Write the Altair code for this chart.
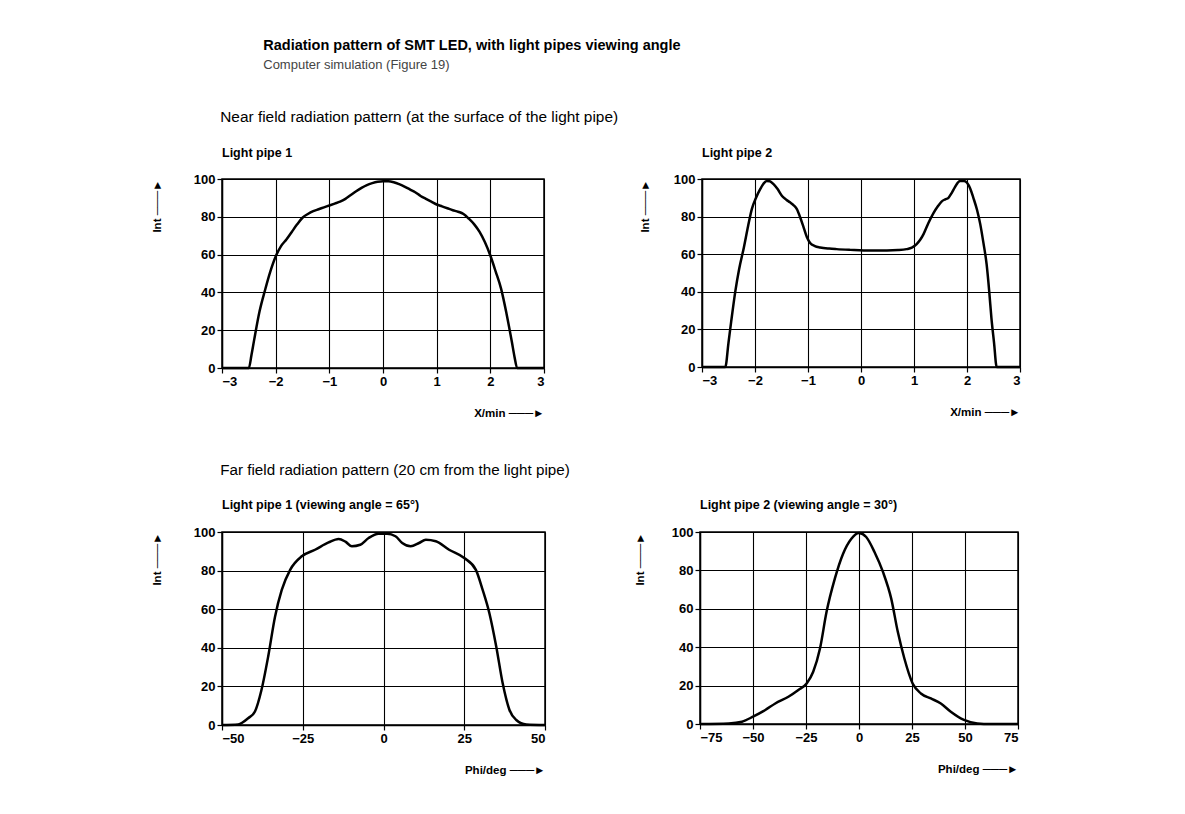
import altair as alt
import pandas as pd

FONT = "Liberation Sans"

# ---- Near field, light pipe 1 ----
nf1_x = [-3.0, -2.5, -2.45, -2.4, -2.3, -2.2, -2.1, -2.0, -1.9, -1.8, -1.7, -1.6, -1.5, -1.4, -1.3,
         -1.2, -1.1, -1.0, -0.9, -0.8, -0.7, -0.6, -0.5, -0.4, -0.3, -0.2, -0.1, 0.0, 0.1, 0.2,
         0.3, 0.4, 0.5, 0.6, 0.7, 0.8, 0.9, 1.0, 1.1, 1.2, 1.3, 1.4, 1.5, 1.6, 1.7, 1.8, 1.9,
         2.0, 2.1, 2.2, 2.3, 2.4, 2.45, 2.5, 3.0]
nf1_y = [0, 0, 7, 15, 30, 41, 51, 59, 64.5, 68, 72, 76, 79.5, 81.5, 83,
         84, 85, 86, 87, 88, 89.5, 91.5, 93.5, 95.3, 96.8, 97.8, 98.5, 98.8, 98.8, 98.3,
         97.3, 96, 94.5, 93, 91, 89.5, 88, 86.5, 85.5, 84.5, 83.5, 82.7, 81.5, 79, 76, 72, 66.5,
         59.5, 51, 42, 29, 14, 6, 0, 0]

# ---- Near field, light pipe 2 ----
nf2_x = [-3.0, -2.56, -2.5, -2.45, -2.37, -2.3, -2.21, -2.13, -2.06, -1.98, -1.90, -1.84, -1.78,
         -1.72, -1.65, -1.57, -1.49, -1.41, -1.34, -1.27, -1.21, -1.14, -1.08, -1.02, -0.96,
         -0.87, -0.77, -0.6, -0.46, -0.2, 0.05, 0.3, 0.49, 0.7, 0.86, 0.96, 1.05, 1.12, 1.18,
         1.27, 1.37, 1.45, 1.52, 1.59, 1.65, 1.71, 1.77, 1.82, 1.87, 1.94, 2.0, 2.06, 2.12,
         2.19, 2.25, 2.31, 2.37, 2.42, 2.46, 2.51, 2.56, 3.0]
nf2_y = [0, 0, 13, 24, 40.5, 52, 63.6, 75, 84, 90, 94.7, 97.5, 99,
         98.8, 97.3, 94.5, 91, 89, 87.6, 86, 84, 79, 74, 69, 66,
         64.3, 63.6, 63, 62.7, 62.3, 62, 62, 62, 62.2, 62.7, 63.5, 65.4, 67.8, 70.7,
         76.5, 82, 85.5, 88, 89.2, 90, 92.5, 95.6, 97.8, 99, 99, 98, 95, 90,
         83.5, 76, 66, 54.7, 40, 26.3, 13, 0, 0]

# ---- Far field, light pipe 1 ----
ff1_x = [-50, -45, -41.9, -39.8, -37.8, -35.7, -33.6, -31.5, -28.9, -25.3, -21.2, -17.0, -13.9,
         -11.8, -9.8, -7.2, -4.6, -1.5, 1.1, 3.7, 5.8, 8.4, 11.0, 13.1, 16.2, 20.3, 25.0, 28.6,
         30.7, 32.8, 34.9, 36.9, 39.0, 41.1, 44.2, 50]
ff1_y = [0, 0.3, 3.5, 7, 18, 35.5, 56, 70, 80.4, 87.4, 90.8, 94.6, 96.4,
         95, 92.6, 93.4, 96.9, 99.1, 99.1, 97.8, 94.3, 92.6, 94.3, 96, 95.2, 90.8, 86.5, 80.4,
         70, 57.8, 40.7, 21.6, 7.8, 2.6, 0.3, 0]

# ---- Far field, light pipe 2 ----
ff2_x = [-75, -61.4, -55.2, -50, -44.2, -39.5, -33.3, -28.6, -24.7, -21.6, -18.4, -15.3, -11.4,
         -7.5, -3.6, 0, 3.4, 7.3, 11.3, 15.2, 18.3, 21.4, 25.3, 29.2, 33.9, 38.6, 43.3, 49.5,
         55.8, 62, 75]
ff2_y = [0, 0.3, 1.2, 3.8, 7.3, 10.7, 14.2, 17.7, 21.1, 27.2, 39.3, 58.4, 75.7,
         88.7, 96.5, 99.5, 97.4, 89.6, 79.2, 65.3, 48, 34.1, 21.1, 15.9, 13.3, 10.7, 6.4, 2.1,
         0.3, 0, 0]

nf_ticks = [-3, -2, -1, 0, 1, 2, 3]
ff1_ticks = [-50, -25, 0, 25, 50]
ff2_ticks = [-75, -50, -25, 0, 25, 50, 75]
y_ticks = [0, 20, 40, 60, 80, 100]

main_title = "Radiation pattern of SMT LED, with light pipes viewing angle"
main_sub = "Computer simulation (Figure 19)"
near_header = "Near field radiation pattern (at the surface of the light pipe)"
far_header = "Far field radiation pattern (20 cm from the light pipe)"
titles = ["Light pipe 1", "Light pipe 2",
          "Light pipe 1 (viewing angle = 65°)", "Light pipe 2 (viewing angle = 30°)"]
x_titles = ["X/min  \u2500\u2500\u2500\u25BA", "Phi/deg  \u2500\u2500\u2500\u25BA"]
y_title = "Int  \u2500\u2500\u2500\u25BA"


def panel(xs, ys, dom, ticks, title, xtitle, w, h, ytx, toff):
    df = pd.DataFrame({"x": xs, "y": ys})
    return (
        alt.Chart(
            df,
            title=alt.Title(title, anchor="start", frame="group", fontSize=12.5,
                            fontWeight="bold", font=FONT, baseline="bottom", offset=toff),
        )
        .mark_line(color="black", strokeWidth=2.5, interpolate="monotone")
        .encode(
            x=alt.X("x:Q", scale=alt.Scale(domain=dom, nice=False, zero=False),
                    axis=alt.Axis(values=ticks, title=xtitle, titleX=w, titleY=45,
                                  titleAlign="right", titleBaseline="middle")),
            y=alt.Y("y:Q", scale=alt.Scale(domain=[0, 100], nice=False),
                    axis=alt.Axis(values=y_ticks, title=y_title, titleX=ytx, titleY=0,
                                  titleAlign="right", titleAngle=270,
                                  titleBaseline="middle")),
        )
        .properties(width=w, height=h)
    )


tl = panel(nf1_x, nf1_y, [-3, 3], nf_ticks, titles[0], x_titles[0], 322, 189, -65, 1)
tr = panel(nf2_x, nf2_y, [-3, 3], nf_ticks, titles[1], x_titles[0], 318, 188, -57, 1)
bl = panel(ff1_x, ff1_y, [-50, 50], ff1_ticks, titles[2], x_titles[1], 323, 193, -65, 2)
br = panel(ff2_x, ff2_y, [-75, 75], ff2_ticks, titles[3], x_titles[1], 318, 192, -60, 2)

row1 = alt.hconcat(tl, tr, spacing=88,
                   title=alt.Title(near_header, anchor="start", fontSize=15.4, fontWeight="normal",
                                   font=FONT, dx=70, offset=5, baseline="bottom"))
row2 = alt.hconcat(bl, br, spacing=82,
                   title=alt.Title(far_header, anchor="start", fontSize=15.2, fontWeight="normal",
                                   font=FONT, dx=70, offset=5, baseline="bottom"))

chart = (
    alt.vconcat(row1, row2, spacing=42,
                title=alt.Title(main_title, subtitle=main_sub, anchor="start", dx=113,
                                fontSize=14.5, fontWeight="bold", font=FONT,
                                subtitleFont=FONT, subtitleFontSize=13,
                                subtitleColor="#444444", subtitlePadding=6, offset=37))
    .properties(padding={"left": 142, "top": 29, "right": 10, "bottom": 10})
    .configure(font=FONT)
    .configure_view(stroke="black", strokeWidth=1.5)
    .configure_axis(
        domainColor="black", domainWidth=1.5,
        gridColor="black", gridWidth=1.1, gridOpacity=1,
        tickColor="black", tickSize=5, tickWidth=1.2,
        labelColor="black", labelFont=FONT, labelFontSize=13, labelFontWeight="bold",
        labelPadding=2,
        titleColor="black", titleFont=FONT, titleFontSize=11.5, titleFontWeight="bold",
    )
    .configure_title(color="black")
)

chart.save("out.html", embed_options={"renderer": "svg", "actions": False})
